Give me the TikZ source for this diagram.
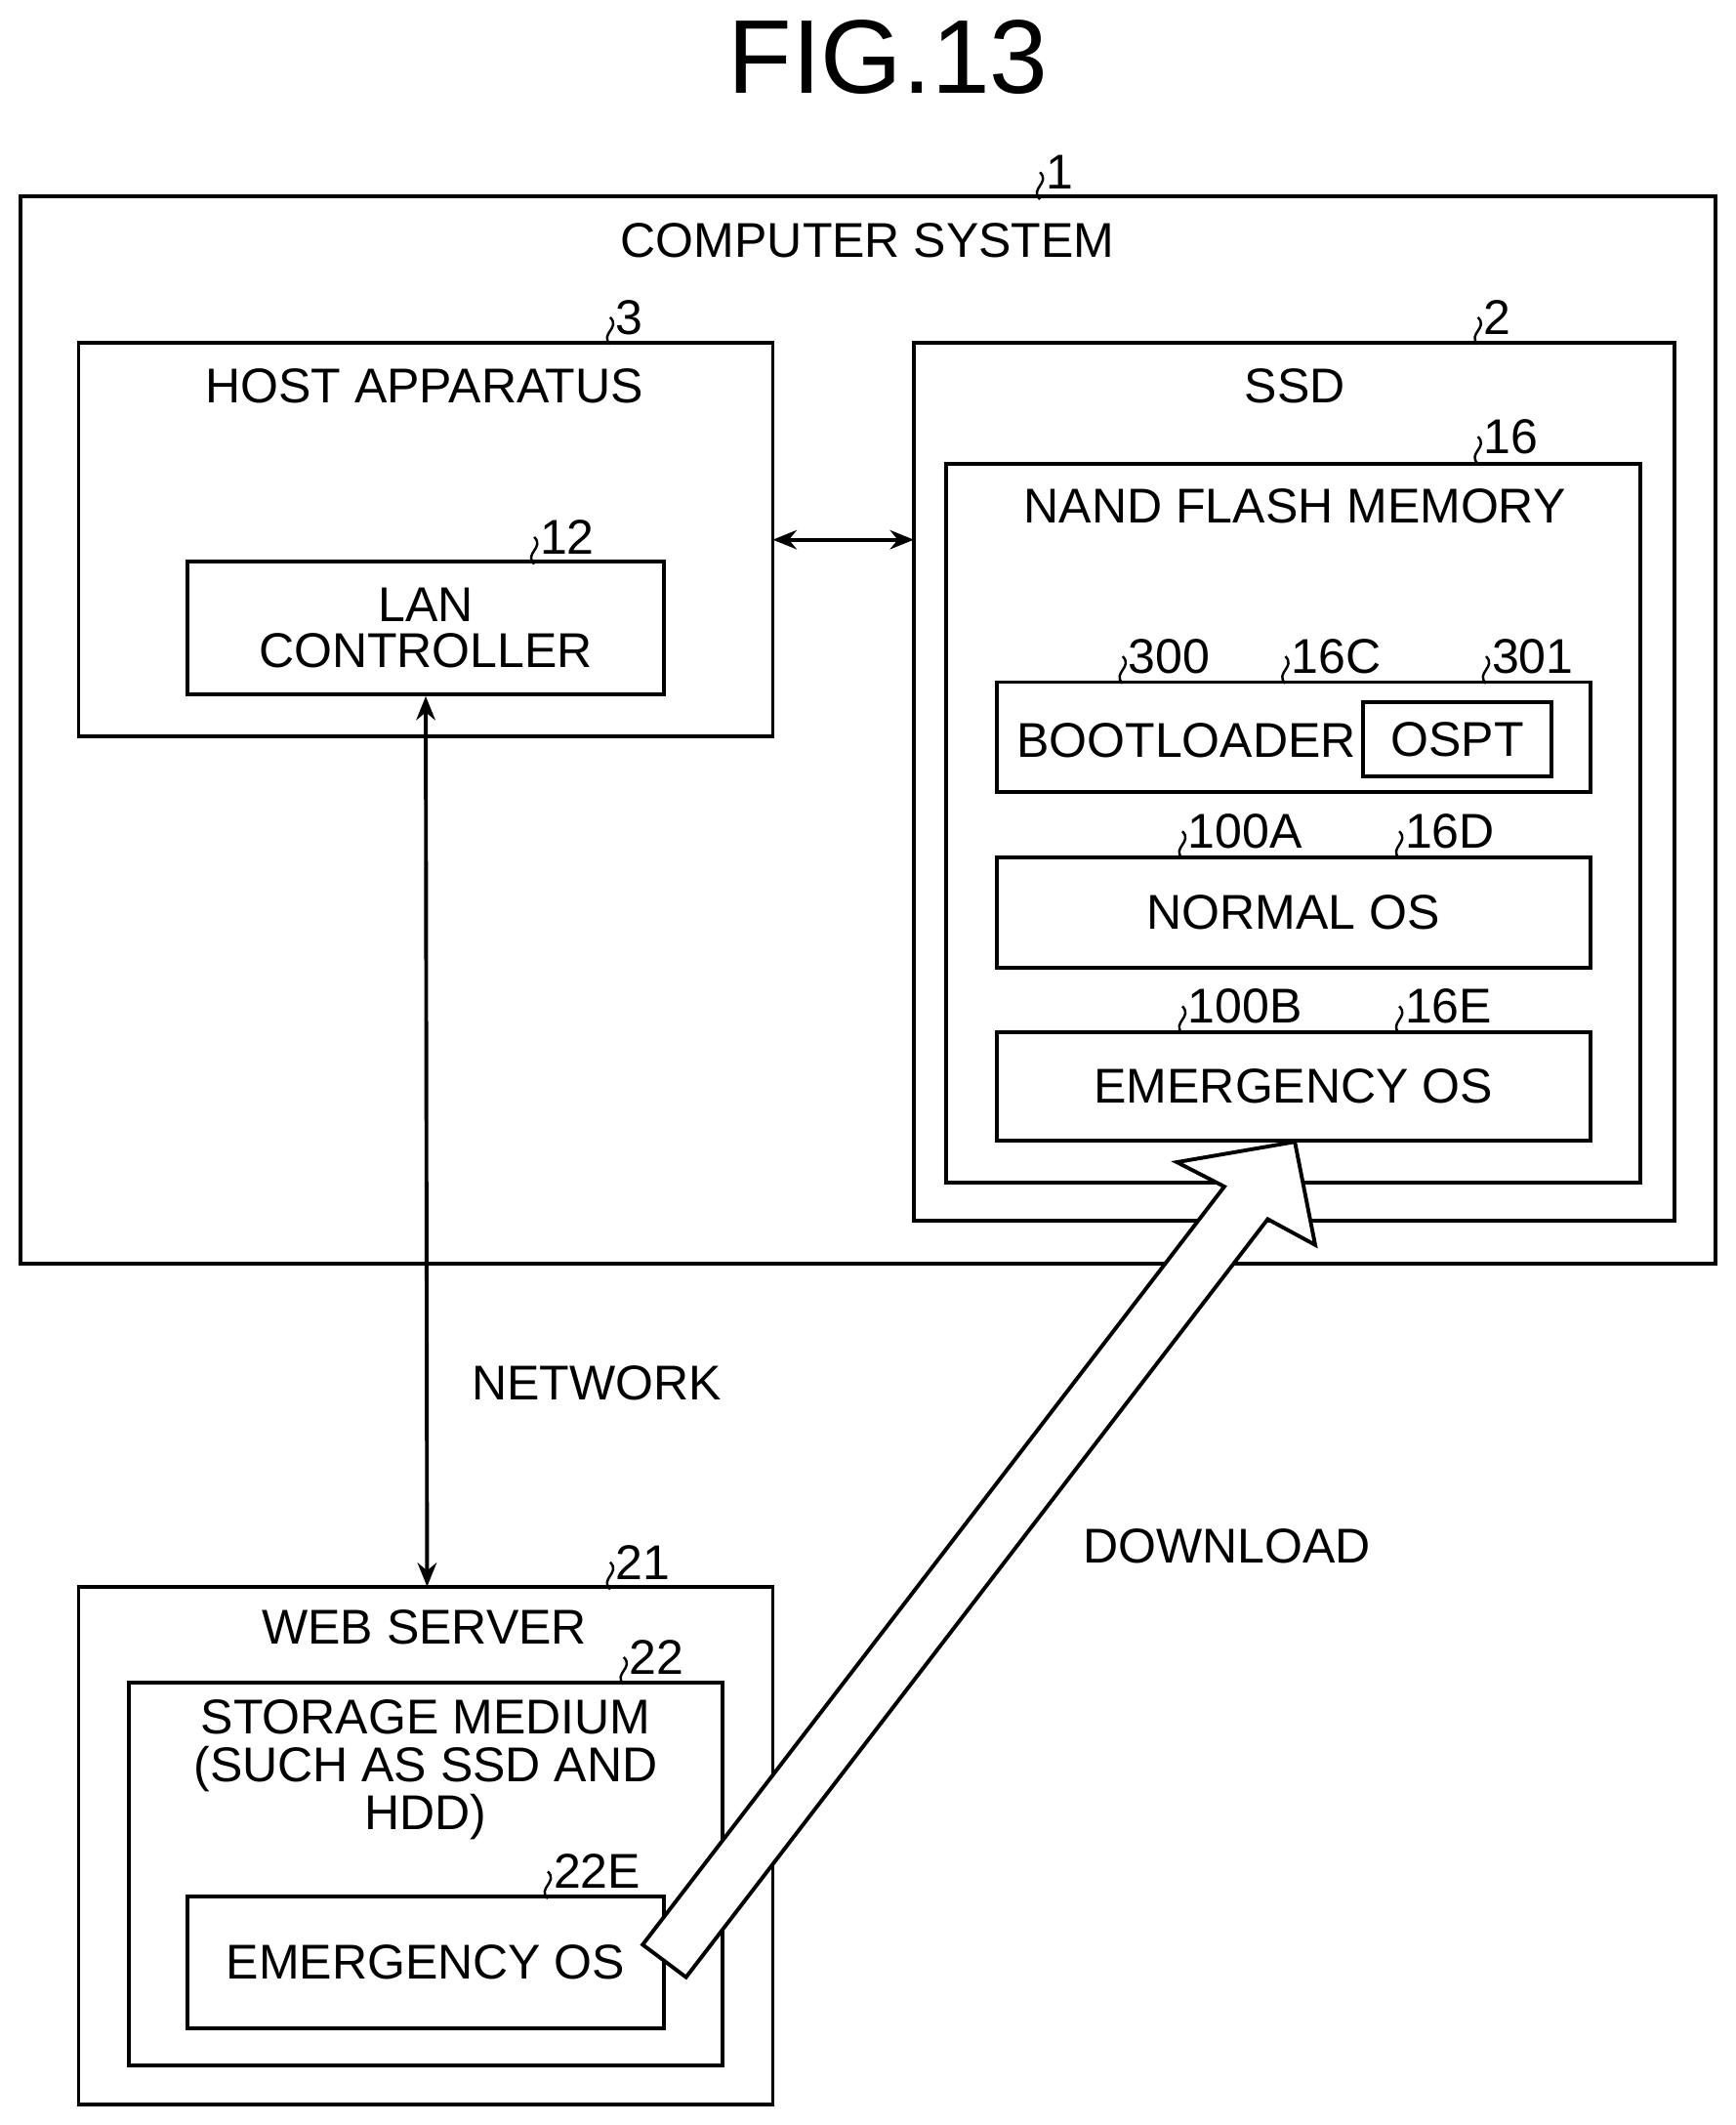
\documentclass[tikz,border=0pt]{standalone}
\usepackage{fontspec}
\setmainfont{Liberation Sans}
\usetikzlibrary{arrows.meta}
\begin{document}
\begin{tikzpicture}[x=0.02cm,y=-0.02cm,
  box/.style={draw,line width=1.6pt},
  txt/.style={font=\fontsize{20.5}{22}\selectfont,inner sep=0pt},
  num/.style={font=\fontsize{20.5}{22}\selectfont,inner sep=0pt,anchor=west},
  arr/.style={line width=1.6pt,{Stealth[length=10pt,width=8pt]}-{Stealth[length=10pt,width=8pt]}}]
\useasboundingbox (0,0) rectangle (1280,1567);
\newcommand{\reflbl}[4]{\draw[line width=1pt] (#1-8,#2+12) .. controls (#1-16,#2+4) and (#1,#2) .. (#1-8,#2-8);
  \node[num] (#3) at (#1-4,#2-8) {#4};}
\node[font=\fontsize{44}{48}\selectfont] (title) at (655,42) {FIG.13};
% computer system
\draw[box] (15,145) rectangle (1265,932);
\node[txt] (cs) at (640,177) {COMPUTER SYSTEM};
\reflbl{775}{135}{l1}{1}
% host
\draw[box] (58,253) rectangle (570,543);
\node[txt] (host) at (313,285) {HOST APPARATUS};
\reflbl{458}{242}{l3}{3}
\node[box,minimum width=352*0.02cm,minimum height=98*0.02cm,txt,align=center] (lan) at (314,463) {LAN\\[-3pt]CONTROLLER};
\reflbl{402}{404}{l12}{12}
% ssd
\draw[box] (674,253) rectangle (1235,900);
\node[txt] (ssd) at (955,285) {SSD};
\reflbl{1098}{242}{l2}{2}
\draw[box] (698,342) rectangle (1210,872);
\node[txt] (nand) at (955,373) {NAND FLASH MEMORY};
\reflbl{1098}{330}{l16}{16}
\coordinate (hostR) at (570,398); \coordinate (ssdL) at (674,398);
\draw[arr] (hostR) -- (ssdL);
% bootloader
\draw[box] (735,503) rectangle (1173,584);
\node[txt] (boot) at (875,546) {BOOTLOADER};
\node[box,minimum width=139*0.02cm,minimum height=55*0.02cm,txt] (ospt) at (1075,545) {OSPT};
\reflbl{836}{492}{l300}{300}
\reflbl{956}{492}{l16c}{16C}
\reflbl{1104}{492}{l301}{301}
\node[box,minimum width=438*0.02cm,minimum height=81*0.02cm,txt] (nos) at (954,673) {NORMAL OS};
\reflbl{880}{621}{l100a}{100A}
\reflbl{1040}{621}{l16d}{16D}
\node[box,minimum width=438*0.02cm,minimum height=80*0.02cm,txt] (eos) at (954,801) {EMERGENCY OS};
\reflbl{880}{750}{l100b}{100B}
\reflbl{1040}{750}{l16e}{16E}
% web server
\draw[box] (58,1170) rectangle (570,1552);
\node[txt] (ws) at (313,1200) {WEB SERVER};
\reflbl{458}{1160}{l21}{21}
\draw[box] (95,1241) rectangle (533,1523);
\node[txt,align=center] (sm) at (314,1305) {STORAGE MEDIUM\\[-2pt](SUCH AS SSD AND\\[-2pt]HDD)};
\reflbl{468}{1230}{l22}{22}
\node[box,minimum width=352*0.02cm,minimum height=97*0.02cm,txt] (weos) at (314,1447) {EMERGENCY OS};
\reflbl{412}{1388}{l22e}{22E}
\coordinate (wsTop) at (315,1170);
\draw[arr] (lan.south) -- (wsTop);
\node[txt] (net) at (440,1020) {NETWORK};
\node[txt] (dl) at (905,1140) {DOWNLOAD};
% big hollow arrow
\draw[line width=1.6pt,fill=white,line join=miter] (474,1434) -- (903,875) -- (868,857) -- (955,842) -- (970,918) -- (935,899) -- (506,1458) -- cycle;
\end{tikzpicture}
\end{document}
